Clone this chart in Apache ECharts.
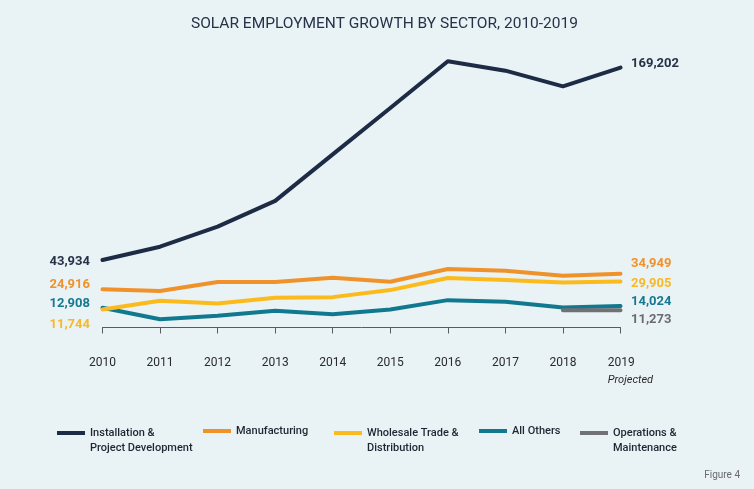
<!DOCTYPE html>
<html>
<head>
<meta charset="utf-8">
<script src="https://cdn.jsdelivr.net/npm/echarts@6/dist/echarts.min.js"></script>
<style>
html,body{margin:0;padding:0;background:#e9f2f5;}
#chart{width:754px;height:489px;}
</style>
</head>
<body>
<div id="chart"></div>
<script>
const years = ['2010','2011','2012','2013','2014','2015','2016','2017','2018','2019'];
const installation = [43934, 52590, 65640, 82400, 112700, 142900, 173300, 167200, 157000, 169202];
const manufacturing = [24916, 23700, 29560, 29560, 32360, 29750, 38040, 36930, 33670, 34949];
const wholesale = [11744, 17350, 15660, 19310, 19770, 24340, 32170, 30860, 29360, 29905];
const allOthers = [12908, 5420, 7570, 10830, 8680, 11740, 17810, 16700, 13050, 14024];
const operations = [null, null, null, null, null, null, null, null, 11200, 11273];

const names = {
  inst: 'Installation & Project Development',
  mfg: 'Manufacturing',
  whole: 'Wholesale Trade & Distribution',
  other: 'All Others',
  om: 'Operations & Maintenance'
};
const legendLines = {};
legendLines[names.inst] = '\nInstallation &\nProject Development';
legendLines[names.mfg] = 'Manufacturing';
legendLines[names.whole] = '\nWholesale Trade &\nDistribution';
legendLines[names.other] = 'All Others';
legendLines[names.om] = '\nOperations &\nMaintenance';

const colors = {
  inst: '#1d2b45', mfg: '#f0922a', whole: '#fbbb1c', other: '#11798f', om: '#707174'
};
const labelColors = {
  inst: '#263248', mfg: '#f0922a', whole: '#f9b824', other: '#17798f', om: '#6b6c6f'
};

const fmt = v => v.toLocaleString('en-US');

function withLabels(arr, key, leftDy, rightDy) {
  return arr.map((v, i) => {
    if (v == null) return v;
    if (i === 0 && leftDy !== null) {
      return { value: v, label: { show: true, position: 'left', distance: 12, offset: [0, leftDy],
        formatter: p => fmt(p.value), color: labelColors[key], fontFamily: 'Roboto', fontWeight: 'bold', fontSize: 13 } };
    }
    if (i === arr.length - 1 && rightDy !== null) {
      return { value: v, label: { show: true, position: 'right', distance: 10, offset: [0, rightDy],
        formatter: p => fmt(p.value), color: labelColors[key], fontFamily: 'Roboto', fontWeight: 'bold', fontSize: 13 } };
    }
    return v;
  });
}

function lineSeries(key, data, z) {
  return {
    name: names[key], type: 'line', data: data, symbol: 'circle', symbolSize: 1, showSymbol: true, z: z,
    lineStyle: { color: colors[key], width: 4, cap: 'round', join: 'round' },
    itemStyle: { color: colors[key] },
    emphasis: { disabled: true },
    connectNulls: false
  };
}

function legendAt(key, left, twoLines) {
  return {
    data: [names[key]], left: left, top: twoLines ? 410.5 : 423.5, orient: 'horizontal',
    padding: 0, itemWidth: 28, itemHeight: 4, icon: 'rect', itemGap: 0,
    formatter: n => legendLines[n],
    selectedMode: false,
    textStyle: { fontFamily: 'Roboto', fontSize: 11, fontWeight: 500, color: '#1f2633', lineHeight: 15 }
  };
}

const chart = echarts.init(document.getElementById('chart'), null, { renderer: 'canvas' });
chart.setOption({
  backgroundColor: '#e9f2f5',
  animation: false,
  title: {
    text: 'SOLAR EMPLOYMENT GROWTH BY SECTOR, 2010-2019',
    left: 186, top: 11,
    textStyle: { fontFamily: 'Roboto', fontSize: 15.5, fontWeight: 'normal', color: '#263248' }
  },
  grid: { left: 102.5, right: 133.5, top: 51, bottom: 140 },
  xAxis: {
    type: 'category', data: years, boundaryGap: false,
    axisLine: { lineStyle: { color: '#5a5a5a', width: 1 } },
    axisTick: { show: true, length: 6, interval: 0, lineStyle: { color: '#5a5a5a' } },
    axisLabel: {
      interval: 0, margin: 7, fontFamily: 'Roboto', fontSize: 12, color: '#2a2a2a',
      formatter: v => v === '2019' ? '{a|2019}\n{p|Projected}' : '{y|' + v + '}',
      rich: {
        y: { fontFamily: 'Roboto', fontSize: 12, color: '#2a2a2a', lineHeight: 14 },
        a: { fontFamily: 'Roboto', fontSize: 12, color: '#2a2a2a', align: 'left', padding: [0, 0, 0, 20], lineHeight: 14 },
        p: { fontFamily: 'Roboto', fontSize: 11, fontStyle: 'italic', color: '#2a2a2a', align: 'left', padding: [0, 0, 0, 20], lineHeight: 20 }
      }
    },
    splitLine: { show: false }
  },
  yAxis: {
    type: 'value', min: -14000, max: 180000, show: false, splitLine: { show: false }
  },
  legend: [
    legendAt('inst', 57, true),
    legendAt('mfg', 203, false),
    legendAt('whole', 334, true),
    legendAt('other', 479, false),
    legendAt('om', 580, true)
  ],
  series: [
    lineSeries('inst', withLabels(installation, 'inst', 2, -4), 2),
    lineSeries('other', withLabels(allOthers, 'other', -4, -4), 3),
    lineSeries('om', withLabels(operations, 'om', null, 10), 3),
    lineSeries('mfg', withLabels(manufacturing, 'mfg', -4, -10), 4),
    lineSeries('whole', withLabels(wholesale, 'whole', 15, 2), 5)
  ],
  graphic: [
    { type: 'text', right: 14, top: 470, style: { text: 'Figure 4', fill: '#6a6a6a', font: '10px Roboto' } }
  ]
});
</script>
</body>
</html>
